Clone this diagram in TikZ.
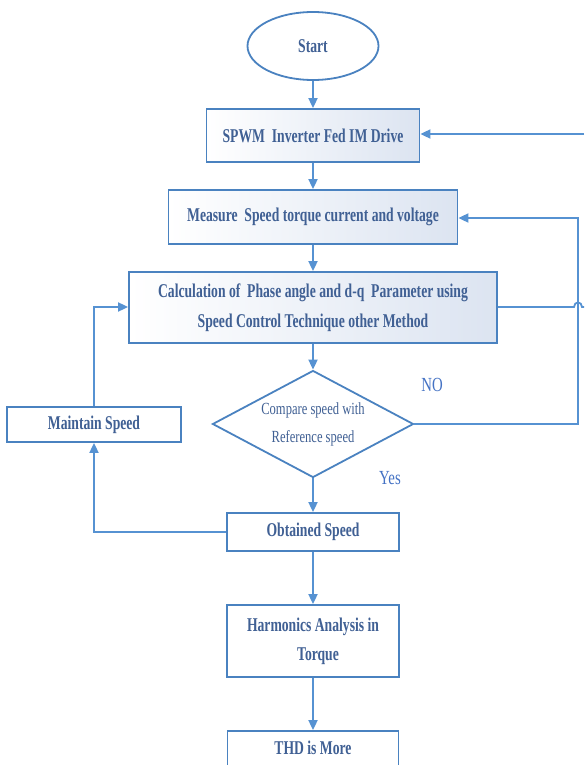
\documentclass[tikz,border=0pt]{standalone}
\usepackage{fontspec}
\setmainfont{Liberation Serif}
\newfontfamily\condb[FakeStretch=0.70]{Liberation Serif Bold}
\newfontfamily\condr[FakeStretch=0.74]{Liberation Serif}
\usetikzlibrary{shapes.geometric,arrows.meta}
\definecolor{ln}{RGB}{86,146,210}
\definecolor{bd}{RGB}{74,130,192}
\definecolor{tx}{RGB}{64,96,148}
\definecolor{lb}{RGB}{68,114,196}
\definecolor{sh}{RGB}{220,228,241}
\tikzset{
  box/.style={draw=bd, line width=1.8pt, rectangle, inner sep=0pt, align=center,
    font=\condb\fontsize{19.5}{22}\selectfont, text=tx},
  shbox/.style={box, left color=white, right color=sh},
  conn/.style={draw=ln, line width=1.8pt, -{Triangle[length=10pt,width=9pt]}},
  plain/.style={draw=ln, line width=1.8pt},
  lab/.style={font=\condr\fontsize{20}{22}\selectfont, text=lb, inner sep=0pt}
}
\begin{document}
\begin{tikzpicture}[x=1pt,y=-1pt]
\useasboundingbox (0,0) rectangle (584,765);
\node[box, ellipse, fill=white, minimum width=131pt, minimum height=68pt] (start) at (313,46) {Start};
\node[shbox, minimum width=213pt, minimum height=53pt] (spwm) at (313,135.5) {SPWM \ Inverter Fed IM Drive};
\node[shbox, minimum width=289pt, minimum height=54pt] (meas) at (313,217) {Measure \ Speed torque current and voltage};
\node[shbox, minimum width=368pt, minimum height=71pt, font=\condb\fontsize{19.5}{30}\selectfont] (calc) at (313,307.5) {Calculation of \ Phase angle and d-q \ Parameter using\\Speed Control Technique other Method};
\node[draw=bd, line width=1.8pt, diamond, fill=white, aspect=2, inner sep=0pt, minimum width=201pt, minimum height=107pt, align=center, text=tx, font=\condr\fontsize{17}{28}\selectfont] (dia) at (313,424) {Compare speed with\\Reference speed};
\node[box, fill=white, minimum width=174pt, minimum height=35pt] (maint) at (94,424.5) {Maintain Speed};
\node[box, fill=white, minimum width=172pt, minimum height=38pt] (obt) at (313,532) {Obtained Speed};
\node[box, fill=white, minimum width=172pt, minimum height=72pt, font=\condb\fontsize{19.5}{29}\selectfont] (harm) at (313,641) {Harmonics Analysis in\\\hspace*{10pt}Torque};
\node[box, fill=white, minimum width=171pt, minimum height=44pt, text depth=10pt] (thd) at (313,753) {THD is More};
\node[lab] (no) at (432,385) {NO};
\node[lab] (yes) at (390,478) {Yes};
\coordinate (r1) at (584,134);
\coordinate (r2) at (584,307);
\coordinate (rr) at (578,424);
\coordinate (rt) at (578,218);
\coordinate (lb1) at (94,532);
\coordinate (lt1) at (94,307);
\coordinate (h1) at (574,307);
\coordinate (h2) at (582,307);
\draw[conn] (start) -- (spwm);
\draw[conn] (spwm) -- (meas);
\draw[conn] (meas) -- (calc);
\draw[conn] (calc) -- (dia);
\draw[conn] (dia) -- (obt);
\draw[conn] (obt) -- (harm);
\draw[conn] (harm) -- (thd);
\draw[conn] (r1) -- (spwm.east |- r1);
\draw[conn] (dia.east) -- (rr) -- (rt) -- (meas.east |- rt);
\draw[conn] (obt.west) -- (lb1) -- (maint.south);
\draw[conn] (maint.north) -- (lt1) -- (calc.west |- lt1);
\draw[plain] (calc.east |- h1) -- (h1) .. controls (574,301) and (582,301) .. (h2) -- (r2);
\end{tikzpicture}
\end{document}
